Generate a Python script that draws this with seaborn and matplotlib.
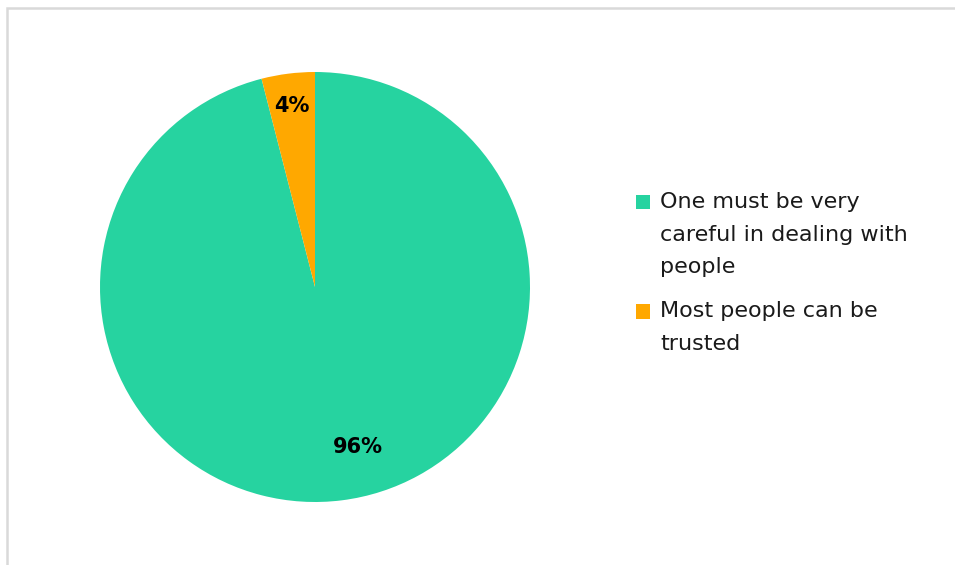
import textwrap
import matplotlib
matplotlib.use("Agg")
import matplotlib.pyplot as plt
from matplotlib.patches import Rectangle, Patch
from matplotlib.legend_handler import HandlerPatch
import seaborn as sns

categories = ["One must be very careful in dealing with people",
              "Most people can be trusted"]
values = [96, 4]
pct_labels = ["96%", "4%"]
colors = ["#26D3A0", "#FFA800"]

sns.set_theme(style="white")
plt.rcParams['font.family'] = ['DejaVu Sans']

LEG_FS = 16
LINE_PITCH_PT = 33 * 72 / 100  # distance between legend text lines


class TopSquareHandler(HandlerPatch):
    """Square marker aligned with the first line of a multi-line label."""
    def __init__(self, nlines, **kw):
        super().__init__(**kw)
        self.nlines = nlines

    def create_artists(self, legend, orig_handle, xdescent, ydescent,
                       width, height, fontsize, trans):
        size = min(width, height)
        off = (self.nlines - 1) / 2 * LINE_PITCH_PT
        p = Rectangle((-xdescent, -ydescent + (height - size) / 2 + off),
                      size, size, facecolor=orig_handle.get_facecolor(),
                      edgecolor="none", transform=trans)
        return [p]


fig = plt.figure(figsize=(9.55, 5.65), dpi=100)
fig.patch.set_facecolor("white")

# outer light frame
fig.add_artist(Rectangle((6.5 / 955, -0.05), 1.2, (565 - 7.5) / 565 + 0.05,
                         transform=fig.transFigure, fill=False,
                         edgecolor="#D9D9D9", linewidth=1.8))

ax = fig.add_axes([100 / 955, 63 / 565, 430 / 955, 430 / 565])
wedges, _ = ax.pie(values, colors=colors, startangle=90, counterclock=False,
                   radius=1, wedgeprops=dict(linewidth=0))
ax.set_xlim(-1, 1)
ax.set_ylim(-1, 1)
ax.set_aspect("equal")
ax.axis("off")

# data labels
label_pos = [(0.2, -0.745), (-0.107, 0.842)]
for (x, y), t in zip(label_pos, pct_labels):
    ax.text(x, y, t, ha="center", va="center", fontsize=15,
            fontweight="bold", color="black")

handles = [Patch(facecolor=c, edgecolor="none") for c in colors]
labels = [textwrap.fill(c, 23) for c in categories]
handler_map = {h: TopSquareHandler(lab.count("\n") + 1)
               for h, lab in zip(handles, labels)}
leg = fig.legend(handles, labels, loc="upper left",
                 bbox_to_anchor=(627 / 955, (565 - 183.5) / 565),
                 frameon=False, fontsize=LEG_FS, handlelength=0.65,
                 handleheight=0.65, handletextpad=0.45, labelspacing=1.08,
                 borderaxespad=0, handler_map=handler_map)
for t in leg.get_texts():
    t.set_linespacing(1.78)
    t.set_color("#1A1A1A")

fig.savefig("out.png", dpi=100, facecolor="white")
